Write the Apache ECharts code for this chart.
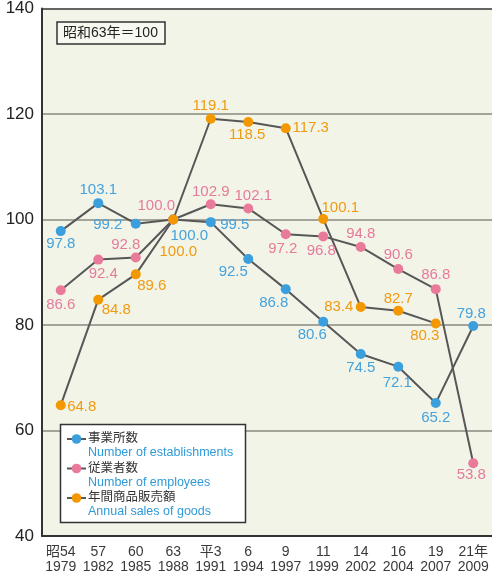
<!DOCTYPE html>
<html><head><meta charset="utf-8">
<script src="https://cdn.jsdelivr.net/npm/echarts@6/dist/echarts.min.js"></script>
<style>html,body{margin:0;padding:0;background:#fff}#c{width:492px;height:577px}</style>
</head><body><div id="c"></div>
<script>
const eras = ['昭54','57','60','63','平3','6','9','11','14','16','19','21年'];
const years = ['1979','1982','1985','1988','1991','1994','1997','1999','2002','2004','2007','2009'];
const establishments = [97.8,103.1,99.2,100.0,99.5,92.5,86.8,80.6,74.5,72.1,65.2,79.8];
const employees = [86.6,92.4,92.8,100.0,102.9,102.1,97.2,96.8,94.8,90.6,86.8,53.8];
const sales = [64.8,84.8,89.6,100.0,119.1,118.5,117.3,100.1,83.4,82.7,80.3,null];
const seriesNames = ['事業所数','従業者数','年間商品販売額'];
const seriesNamesEn = ['Number of establishments','Number of employees','Annual sales of goods'];
const yTicks = [40,60,80,100,120,140];
const note = '昭和63年＝100';

// label offsets (label center relative to point)
const offEst = [[0,13],[0,-13],[-28,1],[16,16],[24,3],[-15,13],[-12,14],[-11,13],[0,14],[-1,16],[0,15],[-2,-12]];
const offEmp = [[0,15],[5,14],[-10,-13],[-17,-14],[0,-12],[5,-13],[-3,15],[-2,14],[0,-13],[0,-14],[0,-14],[-2,12]];
const offSal = [[21,2],[18,10],[16,11],[5,32],[0,-13],[-1,13],[25,0],[17,-11],[-22,0],[0,-12],[-11,12],[0,0]];

const FONT = "'Liberation Sans','Noto Sans CJK JP',sans-serif";
const colors = ['#3a9fdc','#e97a9a','#f39800'];
const textColors = ['#45a2dc','#e57b9b','#f09a10'];

function mk(name, vals, offs, ci){
  return {
    type:'line', name:name,
    data: vals.map((v,i)=>({value:v, label:{offset:offs[i]}})),
    symbol:'circle', symbolSize:10,
    itemStyle:{color:colors[ci]},
    lineStyle:{color:'#575757', width:2},
    label:{show:true, position:'inside', align:'center', verticalAlign:'middle',
      color:textColors[ci], fontSize:15, fontFamily:FONT,
      formatter:p=>p.value==null?'':p.value.toFixed(1)},
    connectNulls:false
  };
}

const chart = echarts.init(document.getElementById('c'), null, {renderer:'canvas'});

const legendGraphics = [];
legendGraphics.push({type:'rect', shape:{x:60.5,y:424.5,width:185,height:98},
  style:{fill:'#fff', stroke:'#333', lineWidth:1.5}, z:100});
seriesNames.forEach((n,i)=>{
  const cy = 439 + i*29.5;
  legendGraphics.push({type:'line', shape:{x1:67,y1:cy,x2:86,y2:cy}, style:{stroke:'#575757',lineWidth:2}, z:101});
  legendGraphics.push({type:'circle', shape:{cx:76.5,cy:cy,r:4.8}, style:{fill:colors[i]}, z:102});
  legendGraphics.push({type:'text', x:88, y:cy, style:{text:n, fill:'#333', font:'12.5px '+FONT, verticalAlign:'middle'}, z:102});
  legendGraphics.push({type:'text', x:88, y:cy+14, style:{text:seriesNamesEn[i], fill:'#2f9ad8', font:'12.5px '+FONT, verticalAlign:'middle'}, z:102});
});
legendGraphics.push({type:'rect', shape:{x:57,y:22,width:108,height:22},
  style:{fill:'#f7f8ef', stroke:'#333', lineWidth:1.5}, z:100});
legendGraphics.push({type:'text', x:63, y:33.5, style:{text:note, fill:'#222', font:'14px '+FONT, verticalAlign:'middle'}, z:101});

chart.setOption({
  animation:false,
  backgroundColor:'#fff',
  grid:{left:42, top:5, width:452, height:531, show:true, backgroundColor:'#f3f4e8', borderWidth:0},
  xAxis:{type:'category', data:eras.map((e,i)=>e+'\n'+years[i]), boundaryGap:true,
    axisLine:{lineStyle:{color:'#333', width:2}}, axisTick:{show:false},
    axisLabel:{color:'#3a3a3a', fontSize:14, fontFamily:FONT, lineHeight:14.5, margin:9, interval:0}},
  yAxis:{type:'value', min:yTicks[0], max:yTicks[yTicks.length-1], interval:20,
    axisLine:{show:true, lineStyle:{color:'#333', width:2}}, axisTick:{show:false},
    axisLabel:{color:'#222', fontSize:17, fontFamily:FONT, margin:8},
    splitLine:{lineStyle:{color:['#333','#8a8a80','#8a8a80','#8a8a80','#8a8a80','#333'], width:1.5}}},
  series:[mk(seriesNames[0],establishments,offEst,0), mk(seriesNames[1],employees,offEmp,1), mk(seriesNames[2],sales,offSal,2)],
  graphic:legendGraphics
});
</script></body></html>
